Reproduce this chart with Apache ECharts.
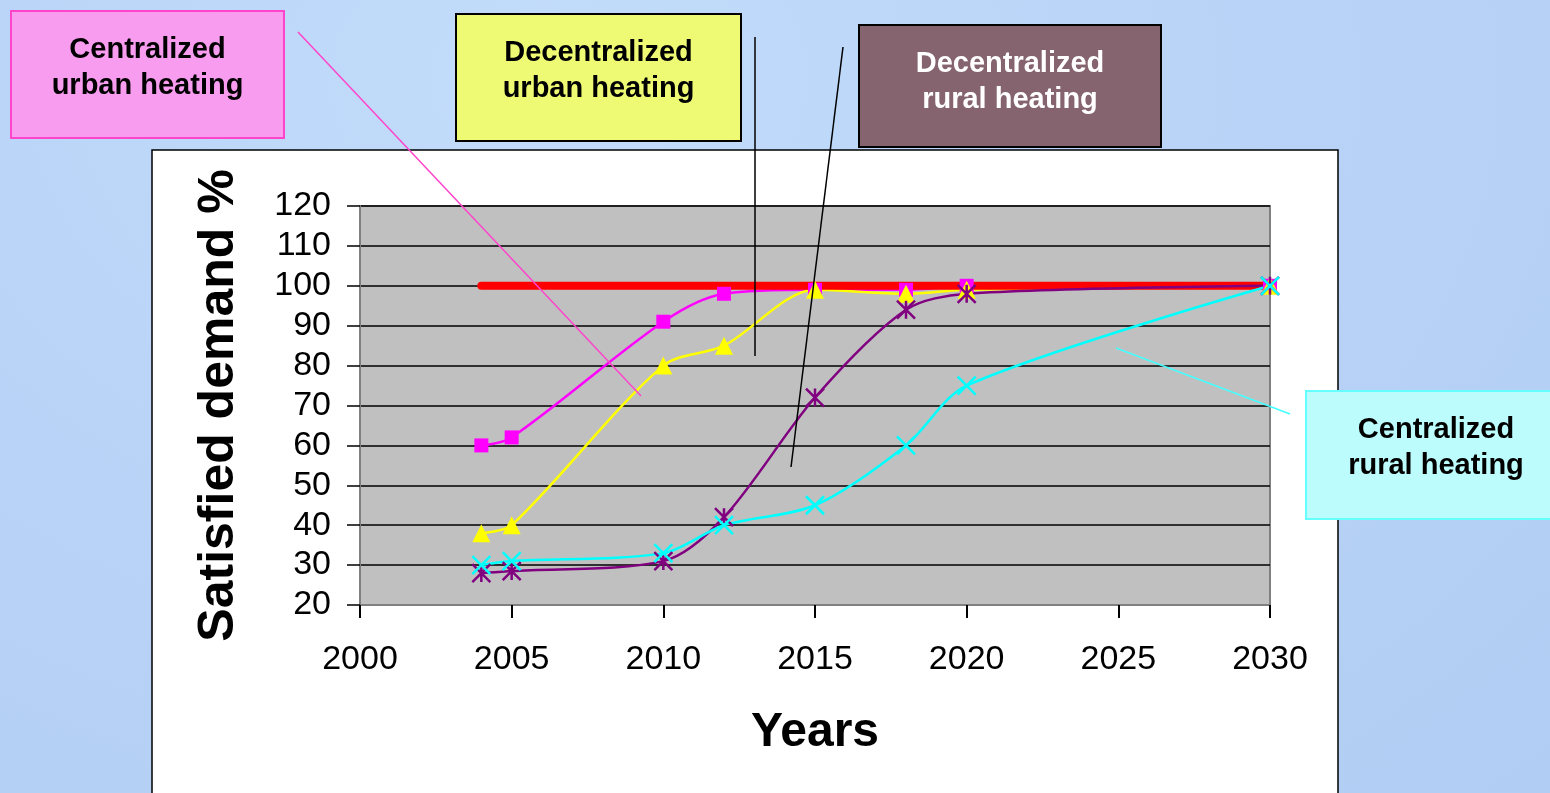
<!DOCTYPE html>
<html>
<head>
<meta charset="utf-8">
<script src="https://cdn.jsdelivr.net/npm/echarts@6/dist/echarts.min.js"></script>
<style>
  html, body { margin: 0; padding: 0; }
  body {
    width: 1550px; height: 793px; overflow: hidden;
    background: radial-gradient(ellipse at 35% 10%, #c3dcfb 0%, #b9d4f7 45%, #b2cdf3 100%);
  }
  #chart { width: 1550px; height: 793px; }
</style>
</head>
<body>
<div id="chart"></div>
<script>
const years = [2004, 2005, 2010, 2012, 2015, 2018, 2020, 2030];
const centralizedUrban = [60, 62, 91, 98, 99, 99, 100, 100];
const decentralizedUrban = [38, 40, 80, 85, 99, 98, 99, 100];
const decentralizedRural = [28, 28.5, 31, 42, 72, 94, 98, 100];
const centralizedRural = [30, 31, 33, 40, 45, 60, 75, 100];
const targetYears = [2004, 2030];
const targetValues = [100, 100];

const FONT = "'Liberation Sans', Arial, sans-serif";
const ASTERISK = "path://M5 0 L5 10 M0 0 L10 10 M10 0 L0 10";
const CROSS = "path://M0 0 L10 10 M10 0 L0 10";

const pairs = (xs, ys) => xs.map((x, i) => [x, ys[i]]);

const lineSeries = (name, values, color, symbol, size, stroke) => ({
  name: name,
  type: "line",
  data: pairs(years, values),
  smooth: 0.3,
  symbol: symbol,
  symbolSize: size,
  lineStyle: { color: color, width: 2.5 },
  itemStyle: stroke
    ? { color: color, borderColor: color, borderWidth: 2.5 }
    : { color: color },
  emphasis: { disabled: true },
});

const box = (x, y, w, h, fill, stroke, text, textColor, shadow) => ({
  type: "group",
  left: x,
  top: y,
  children: [
    {
      type: "rect",
      shape: { x: 0, y: 0, width: w, height: h },
      style: { fill: fill, stroke: stroke, lineWidth: 2 },
    },
    {
      type: "text",
      x: w / 2,
      y: 57,
      style: {
        text: text,
        fill: textColor,
        font: "bold 29px " + FONT,
        align: "center",
        verticalAlign: "middle",
        lineHeight: 36,
        textShadowColor: shadow,
        textShadowOffsetX: 2,
        textShadowOffsetY: 2,
        textShadowBlur: 0,
      },
    },
  ],
});

const leader = (x1, y1, x2, y2, color, width) => ({
  type: "line",
  z: 100,
  shape: { x1: x1, y1: y1, x2: x2, y2: y2 },
  style: { stroke: color, lineWidth: width },
});

const chart = echarts.init(document.getElementById("chart"));
chart.setOption({
  animation: false,
  backgroundColor: "transparent",
  grid: {
    left: 360,
    right: 280,
    top: 206,
    bottom: 188,
    show: true,
    backgroundColor: "#c0c0c0",
    borderColor: "#808080",
    borderWidth: 2,
  },
  xAxis: {
    type: "value",
    min: 2000,
    max: 2030,
    interval: 5,
    name: "Years",
    nameLocation: "middle",
    nameGap: 104,
    nameTextStyle: { fontSize: 48, fontWeight: "bold", color: "#000", fontFamily: FONT },
    axisLine: { show: true, lineStyle: { color: "#808080", width: 2 } },
    axisTick: { show: true, length: 13, lineStyle: { color: "#000", width: 2 } },
    axisLabel: { fontSize: 34, color: "#000", fontFamily: FONT, margin: 38, formatter: (v) => String(v) },
    splitLine: { show: false },
  },
  yAxis: {
    type: "value",
    min: 20,
    max: 120,
    interval: 10,
    name: "Satisfied demand %",
    nameLocation: "middle",
    nameGap: 116,
    nameTextStyle: { fontSize: 50, fontWeight: "bold", color: "#000", fontFamily: FONT },
    axisLine: { show: true, lineStyle: { color: "#808080", width: 2 } },
    axisTick: { show: true, length: 13, lineStyle: { color: "#000", width: 1.5 } },
    axisLabel: { fontSize: 34, color: "#000", fontFamily: FONT, margin: 29 },
    splitLine: { show: true, lineStyle: { color: "#000", width: 1.5 } },
  },
  graphic: [
    {
      type: "rect",
      z: -10,
      shape: { x: 152, y: 150, width: 1186, height: 700 },
      style: { fill: "#ffffff", stroke: "#000", lineWidth: 1.5 },
    },
    box(10, 10, 273, 127, "#f79cef", "#ff44cc", "Centralized\nurban heating", "#000", "#ffffff"),
    box(455, 13, 285, 127, "#eefa73", "#000", "Decentralized\nurban heating", "#000", "#ffffff"),
    box(858, 24, 302, 122, "#85646f", "#000", "Decentralized\nrural heating", "#ffffff", "#222222"),
    box(1305, 390, 260, 128, "#bcfcfc", "#66ffff", "Centralized\nrural heating", "#000", "rgba(0,0,0,0)"),
    leader(298, 32, 641, 396, "#ff44cc", 1.5),
    leader(755, 37, 755, 356, "#000", 1.5),
    leader(843, 47, 791, 467, "#000", 1.5),
    leader(1116, 348, 1290, 414, "#44ffff", 1.5),
  ],
  series: [
    lineSeries("Centralized urban heating", centralizedUrban, "#ff00ff", "rect", 14, false),
    lineSeries("Decentralized urban heating", decentralizedUrban, "#ffff00", "triangle", 18, false),
    {
      name: "Target",
      type: "line",
      data: pairs(targetYears, targetValues),
      symbol: "none",
      lineStyle: { color: "#ff0000", width: 8, cap: "round" },
      emphasis: { disabled: true },
    },
    lineSeries("Decentralized rural heating", decentralizedRural, "#800080", ASTERISK, 18, true),
    lineSeries("Centralized rural heating", centralizedRural, "#00ffff", CROSS, 18, true),
  ],
});
</script>
</body>
</html>
